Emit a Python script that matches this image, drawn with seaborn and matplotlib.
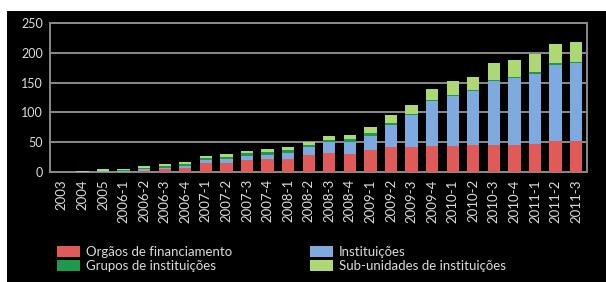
import pandas as pd
import matplotlib.pyplot as plt
import seaborn as sns
from matplotlib.patches import Patch, Rectangle

periods = ["2003", "2004", "2005", "2006-1", "2006-2", "2006-3", "2006-4",
           "2007-1", "2007-2", "2007-3", "2007-4", "2008-1", "2008-2", "2008-3",
           "2008-4", "2009-1", "2009-2", "2009-3", "2009-4", "2010-1", "2010-2",
           "2010-3", "2010-4", "2011-1", "2011-2", "2011-3"]
orgaos = [0, 0, 1, 1, 2, 5, 8, 15, 16, 21, 23, 23, 29, 33, 30, 37, 43, 43, 44, 44, 45, 46, 46, 47, 52, 52]
instituicoes = [1, 1, 1, 2, 3, 3, 3, 5, 6, 6, 6, 10, 14, 18, 21, 24, 36, 52, 75, 84, 91, 106, 112, 118, 128, 131]
grupos = [0, 0, 1, 1, 2, 3, 3, 4, 4, 5, 5, 4, 2, 3, 4, 5, 3, 2, 2, 2, 2, 2, 2, 2, 2, 2]
subunidades = [0, 1, 2, 1, 3, 3, 4, 3, 4, 4, 5, 5, 6, 6, 7, 9, 13, 15, 18, 23, 22, 29, 28, 30, 32, 32]

labels = ["Orgãos de financiamento", "Grupos de instituições",
          "Instituições", "Sub-unidades de instituições"]
colors = {"Orgãos de financiamento": "#e05a5a",
          "Instituições": "#7eaae0",
          "Grupos de instituições": "#1f9a4c",
          "Sub-unidades de instituições": "#aed873"}

df = pd.DataFrame({"periodo": periods,
                   "Orgãos de financiamento": orgaos,
                   "Instituições": instituicoes,
                   "Grupos de instituições": grupos,
                   "Sub-unidades de instituições": subunidades})
stack_order = ["Orgãos de financiamento", "Instituições",
               "Grupos de instituições", "Sub-unidades de instituições"]
cum = df[stack_order].cumsum(axis=1)

sns.set_style("dark")
plt.rcParams['font.family'] = ['Lato', 'DejaVu Sans']
txt = "#dcdcdc"
edge = "#8a8a8a"

fig = plt.figure(figsize=(6.06, 2.82), dpi=100, facecolor="black")
# white margins at top and left, as in the scanned figure
fig.add_artist(Rectangle((0, 271 / 282), 1, 11 / 282, transform=fig.transFigure,
                         facecolor="white", edgecolor="none"))
fig.add_artist(Rectangle((0, 0), 7 / 606, 1, transform=fig.transFigure,
                         facecolor="white", edgecolor="none"))
ax = fig.add_axes([50 / 606, 109.7 / 282, 537 / 606, 149.6 / 282])
ax.set_facecolor("black")

# draw cumulative layers from top segment down so they stack
for name in reversed(stack_order):
    sns.barplot(x=df["periodo"], y=cum[name], color=colors[name], width=0.6,
                saturation=1, linewidth=0, edgecolor="none", ax=ax, zorder=3)

ax.set_ylim(0, 250)
ax.set_xlim(-0.58, len(periods) - 0.47)
ax.set_yticks([0, 50, 100, 150, 200, 250])
ax.grid(axis="y", color=edge, lw=1.4, zorder=1)
ax.grid(axis="x", visible=False)
for s in ax.spines.values():
    s.set_visible(True)
    s.set_color(edge)
    s.set_linewidth(1.4)
ax.tick_params(axis="y", colors=edge, labelcolor=txt, labelsize=9, length=3, width=1.2, pad=2)
ax.tick_params(axis="x", colors=edge, labelcolor=txt, labelsize=9.5, length=3, width=1.2,
               pad=2, rotation=90)
ax.set_xlabel("")
ax.set_ylabel("")

handles = {n: Patch(facecolor=colors[n], edgecolor="none") for n in labels}
common = dict(frameon=False, fontsize=9.5, labelcolor=txt, handlelength=1.75,
              handleheight=0.85, handletextpad=0.45, labelspacing=0.15,
              borderpad=0, borderaxespad=0, loc="upper left")
fig.legend([handles[labels[0]], handles[labels[1]]], labels[:2],
           bbox_to_anchor=(57 / 606, 36 / 282), **common)
fig.legend([handles[labels[2]], handles[labels[3]]], labels[2:],
           bbox_to_anchor=(310 / 606, 36 / 282), **common)

fig.savefig("out.png", dpi=100, facecolor=fig.get_facecolor())
